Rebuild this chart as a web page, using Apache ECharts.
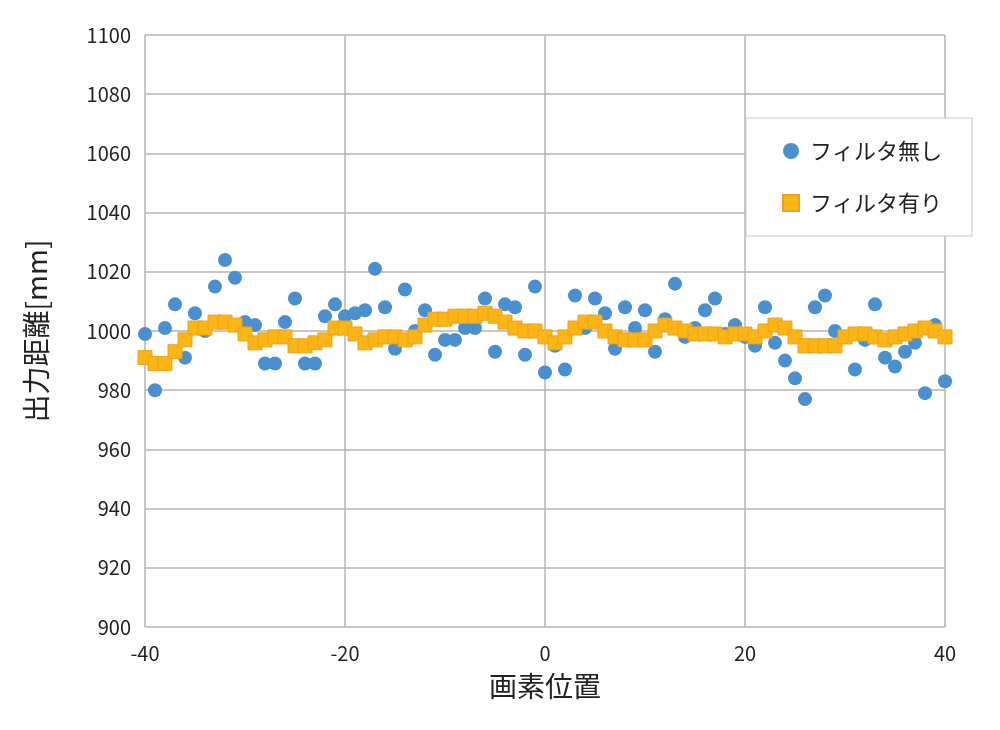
<!doctype html>
<html>
<head>
<meta charset="utf-8">
<script src="https://cdn.jsdelivr.net/npm/echarts@6/dist/echarts.min.js"></script>
<style>body{margin:0;background:#fff}#main{width:1000px;height:730px}</style>
</head>
<body>
<div id="main"></div>
<script>
// x = -40..40
var xs = [];
for (var i = -40; i <= 40; i++) xs.push(i);
var rawVals = [999,980,1001,1009,991,1006,1000,1015,1024,1018,1003,1002,989,989,1003,1011,989,989,1005,1009,
  1005,1006,1007,1021,1008,994,1014,1000,1007,992,997,997,1001,1001,1011,993,1009,1008,992,1015,
  986,995,987,1012,1001,1011,1006,994,1008,1001,1007,993,1004,1016,998,1001,1007,1011,999,1002,
  998,995,1008,996,990,984,977,1008,1012,1000,998,987,997,1009,991,988,993,996,979,1002,983];
var filtVals = [991,989,989,993,997,1001,1001,1003,1003,1002,999,996,997,998,998,995,995,996,997,1001,
  1001,999,996,997,998,998,997,998,1002,1004,1004,1005,1005,1005,1006,1005,1003,1001,1000,1000,
  998,996,998,1001,1003,1003,1000,998,997,997,997,1000,1002,1001,1000,999,999,999,998,999,
  999,998,1000,1002,1001,998,995,995,995,995,998,999,999,998,997,998,999,1000,1001,1000,998];

var chart = echarts.init(document.getElementById('main'));
var font = '"Noto Sans CJK JP", sans-serif';
chart.setOption({
  animation: false,
  textStyle: {fontFamily: font},
  grid: {left: 145, right: 55, top: 35, bottom: 103},
  legend: {
    orient: 'vertical', right: 28, top: 118, padding: [22, 30, 22, 36],
    itemGap: 30, itemWidth: 16, itemHeight: 16,
    borderColor: '#c8c8c8', borderWidth: 1, backgroundColor: '#fff',
    textStyle: {fontSize: 22, color: '#222', fontFamily: font, padding: [0, 0, 0, 6]},
    data: [{name: 'フィルタ無し', icon: 'circle'}, {name: 'フィルタ有り', icon: 'rect'}]
  },
  xAxis: {
    type: 'value', min: -40, max: 40, interval: 20,
    name: '画素位置', nameLocation: 'middle', nameGap: 45,
    nameTextStyle: {fontSize: 28, color: '#222'},
    axisLine: {show: false}, axisTick: {show: false},
    axisLabel: {fontSize: 20, color: '#222', margin: 16},
    splitLine: {lineStyle: {color: '#b5b5b5', width: 1.5}}
  },
  yAxis: {
    type: 'value', min: 900, max: 1100, interval: 20,
    name: '出力距離[mm]', nameLocation: 'middle', nameGap: 95,
    nameTextStyle: {fontSize: 28, color: '#222'},
    axisLine: {show: false}, axisTick: {show: false},
    axisLabel: {fontSize: 20, color: '#222', margin: 14, formatter: function (v) { return String(v); }},
    splitLine: {lineStyle: {color: '#b5b5b5', width: 1.5}}
  },
  series: [
    {name: 'フィルタ無し', type: 'scatter', symbol: 'circle', symbolSize: 14,
     itemStyle: {color: '#4a8fd0', opacity: 1},
     data: xs.map(function (x, i) { return [x, rawVals[i]]; })},
    {name: 'フィルタ有り', type: 'scatter', symbol: 'rect', symbolSize: 14,
     itemStyle: {color: '#fbb515', borderColor: '#eda21f', borderWidth: 1, opacity: 1},
     data: xs.map(function (x, i) { return [x, filtVals[i]]; })}
  ]
});
</script>
</body>
</html>
